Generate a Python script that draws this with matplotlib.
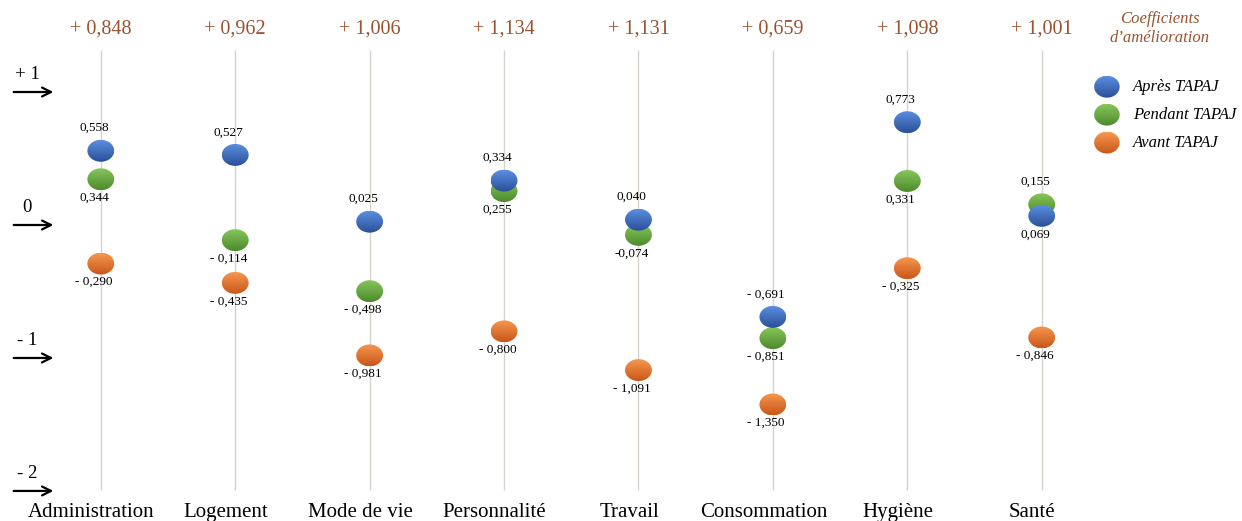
import numpy as np
import matplotlib.pyplot as plt
from matplotlib.patches import Ellipse
from matplotlib.colors import LinearSegmentedColormap
import matplotlib.transforms as mtransforms

categories = ['Administration', 'Logement', 'Mode de vie', 'Personnalité',
              'Travail', 'Consommation', 'Hygiène', 'Santé']
coefficients = ['+ 0,848', '+ 0,962', '+ 1,006', '+ 1,134',
                '+ 1,131', '+ 0,659', '+ 1,098', '+ 1,001']

apres = [0.558, 0.527, 0.025, 0.334, 0.040, -0.691, 0.773, 0.069]
pendant = [0.344, -0.114, -0.498, 0.255, -0.074, -0.851, 0.331, 0.155]
avant = [-0.290, -0.435, -0.981, -0.800, -1.091, -1.350, -0.325, -0.846]

apres_lbl = ['0,558', '0,527', '0,025', '0,334', '0,040', '- 0,691', '0,773', '0,069']
pendant_lbl = ['0,344', '- 0,114', '- 0,498', '0,255', '-0,074', '- 0,851', '0,331', '0,155']
avant_lbl = ['- 0,290', '- 0,435', '- 0,981', '- 0,800', '- 1,091', '- 1,350', '- 0,325', '- 0,846']

series_names = ['Après TAPAJ', 'Pendant TAPAJ', 'Avant TAPAJ']
# (haut, bas) des dégradés
colors = [('#5a8ee0', '#2b4f98'), ('#86c65a', '#4c8a2c'), ('#f6974f', '#c9571a')]
brown = '#9a5330'

plt.rcParams['font.family'] = ['Liberation Serif', 'DejaVu Serif']

W, H = 1242, 521
fig = plt.figure(figsize=(W / 100, H / 100), dpi=100)
ax = fig.add_axes([0, 0, 1, 1])
ax.set_axis_off()
xmin, xmax = -0.75, 8.49
ymin, ymax = -2.226, 1.692

x = np.arange(len(categories))
ew, eh = 0.2, 0.165  # taille des pastilles (données)


def pastille(ax, cx, cy, c_top, c_bot, w=ew, h=eh):
    cmap = LinearSegmentedColormap.from_list('g', [c_bot, c_top])
    grad = np.linspace(0, 1, 64).reshape(-1, 1)
    el = Ellipse((cx, cy), w, h, facecolor='none', edgecolor='none')
    ax.add_patch(el)
    im = ax.imshow(grad, cmap=cmap, origin='lower', aspect='auto',
                   extent=[cx - w / 2, cx + w / 2, cy - h / 2, cy + h / 2], zorder=3)
    im.set_clip_path(el)


# lignes verticales
ax.vlines(x, -1.99, 1.316, color='#d8d2cd', lw=1.0, zorder=1)

data = [apres, pendant, avant]
labels = [apres_lbl, pendant_lbl, avant_lbl]
for i in range(len(categories)):
    vals = [d[i] for d in data]
    top = int(np.argmax(vals))
    for s in [2, 1, 0]:
        pastille(ax, x[i], data[s][i], colors[s][0], colors[s][1])
    for s in range(3):
        v = data[s][i]
        dx = -0.05
        if s == top:
            ax.text(x[i] + dx, v + 0.17, labels[s][i], ha='center', va='center', fontsize=9.5)
        else:
            ax.text(x[i] + dx, v - 0.14, labels[s][i], ha='center', va='center', fontsize=9.5)

# coefficients en haut, catégories en bas
for i in range(len(categories)):
    ax.text(x[i], 1.47, coefficients[i], ha='center', va='center', fontsize=14.5, color=brown)
    ax.text(x[i] - 0.07, -2.16, categories[i], ha='center', va='center', fontsize=15)

# repères à gauche
bt = mtransforms.blended_transform_factory(ax.transAxes, ax.transData)
for val, txt in [(1, '+ 1'), (0, '0'), (-1, '- 1'), (-2, '- 2')]:
    ax.annotate('', xy=(0.043, val), xytext=(0.011, val), xycoords=bt, textcoords=bt,
                arrowprops=dict(arrowstyle='->', color='black', lw=1.6, mutation_scale=16,
                                shrinkA=0, shrinkB=0))
    ax.text(0.022, val + 0.13, txt, transform=bt, ha='center', va='center', fontsize=13.5)

# légende
ax.text(0.934, 0.945, 'Coefficients\nd\u2019amélioration', transform=ax.transAxes,
        ha='center', va='center', fontsize=12, style='italic', color=brown, linespacing=1.3)
for s in range(3):
    yy = 1.04 - s * 0.21
    pastille(ax, 7.485, yy, colors[s][0], colors[s][1], w=0.19, h=0.165)
    ax.text(7.68, yy, series_names[s], ha='left', va='center', fontsize=12, style='italic')

ax.set_xlim(xmin, xmax)
ax.set_ylim(ymin, ymax)
fig.savefig('out.png', dpi=100)
